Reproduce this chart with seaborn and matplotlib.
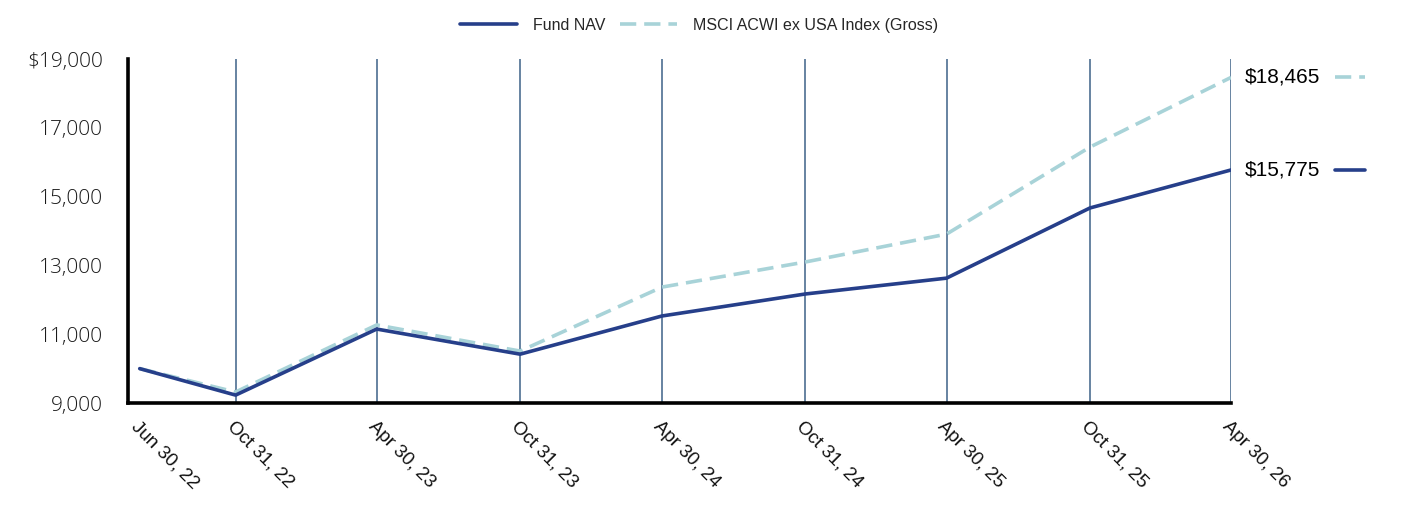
import pandas as pd
import matplotlib.pyplot as plt
from matplotlib.lines import Line2D
import seaborn as sns

########################################################
# Data
########################################################

dates = ["2022-06-30", "2022-10-31", "2023-04-30", "2023-10-31", "2024-04-30",
         "2024-10-31", "2025-04-30", "2025-10-31", "2026-04-30"]
date_labels = ["Jun 30, 22", "Oct 31, 22", "Apr 30, 23", "Oct 31, 23", "Apr 30, 24",
               "Oct 31, 24", "Apr 30, 25", "Oct 31, 25", "Apr 30, 26"]
fund_nav = [10000, 9230, 11150, 10420, 11530, 12170, 12630, 14670, 15775]
index_gross = [10000, 9320, 11270, 10510, 12370, 13100, 13910, 16440, 18465]
series_names = ["Fund NAV", "MSCI ACWI ex USA Index (Gross)"]
y_ticks = [9000, 11000, 13000, 15000, 17000, 19000]

NAV_COLOR = "#263f8a"
IDX_COLOR = "#a8d3d8"
GRID_COLOR = "#5b7a9a"
DASH = (4.5, 2.2)

########################################################
# Build frame
########################################################

df = pd.DataFrame({
    "date": pd.to_datetime(dates * 2),
    "value": fund_nav + index_gross,
    "series": [series_names[0]] * len(dates) + [series_names[1]] * len(dates),
})

sns.set_style("white")
plt.rcParams["font.family"] = ["Liberation Sans", "DejaVu Sans"]

fig = plt.figure(figsize=(14.24, 5.26), dpi=100)
ax = fig.add_axes([0.0899, 0.2338, 0.7746, 0.654])

x_dates = pd.to_datetime(dates)
for d in x_dates[1:]:
    ax.axvline(d, color=GRID_COLOR, lw=1.3, zorder=0)

sns.lineplot(data=df, x="date", y="value", hue="series", style="series",
             palette={series_names[0]: NAV_COLOR, series_names[1]: IDX_COLOR},
             dashes={series_names[0]: "", series_names[1]: DASH},
             hue_order=series_names[::-1], style_order=series_names[::-1],
             linewidth=2.6, ax=ax, legend=False, zorder=3)

ax.set_xlim(pd.Timestamp("2022-06-15"), x_dates[-1])
ax.set_ylim(9000, 19000)
ax.set_yticks(y_ticks)
ax.set_yticklabels([f"${v:,}" if v == y_ticks[-1] else f"{v:,}" for v in y_ticks],
                   fontsize=15, color="#1a1a1a", family=["Open Sans", "DejaVu Sans"],
                   fontweight="light")
ax.set_xticks(x_dates)
ax.set_xticklabels(date_labels, rotation=-45, ha="left", va="top",
                   rotation_mode="anchor", fontsize=13.5, color="#111111")
ax.tick_params(axis="x", length=0, pad=11)
ax.tick_params(axis="y", length=0, pad=18)
ax.set_xlabel("")
ax.set_ylabel("")

for side in ["top", "right"]:
    ax.spines[side].set_visible(False)
for side in ["left", "bottom"]:
    ax.spines[side].set_color("black")
    ax.spines[side].set_linewidth(2.6)

# end labels with small line keys
trans = ax.get_yaxis_transform()
for val, col, dash in [(index_gross[-1], IDX_COLOR, DASH), (fund_nav[-1], NAV_COLOR, None)]:
    ax.text(1.012, val, f"${val:,}", transform=trans, fontsize=15,
            va="center", ha="left", color="black")
    ln = Line2D([1.094, 1.121], [val, val], transform=trans, color=col,
                lw=2.6, clip_on=False)
    if dash:
        ln.set_dashes(dash)
    ax.add_line(ln)

handles = [Line2D([], [], color=NAV_COLOR, lw=2.6),
           Line2D([], [], color=IDX_COLOR, lw=2.6, dashes=DASH)]
fig.legend(handles, series_names, loc="center", bbox_to_anchor=(0.491, 0.952),
           ncol=2, frameon=False, fontsize=11.5, handlelength=3.6, columnspacing=0.9,
           handletextpad=1.0)

fig.savefig("out.png", dpi=100)
